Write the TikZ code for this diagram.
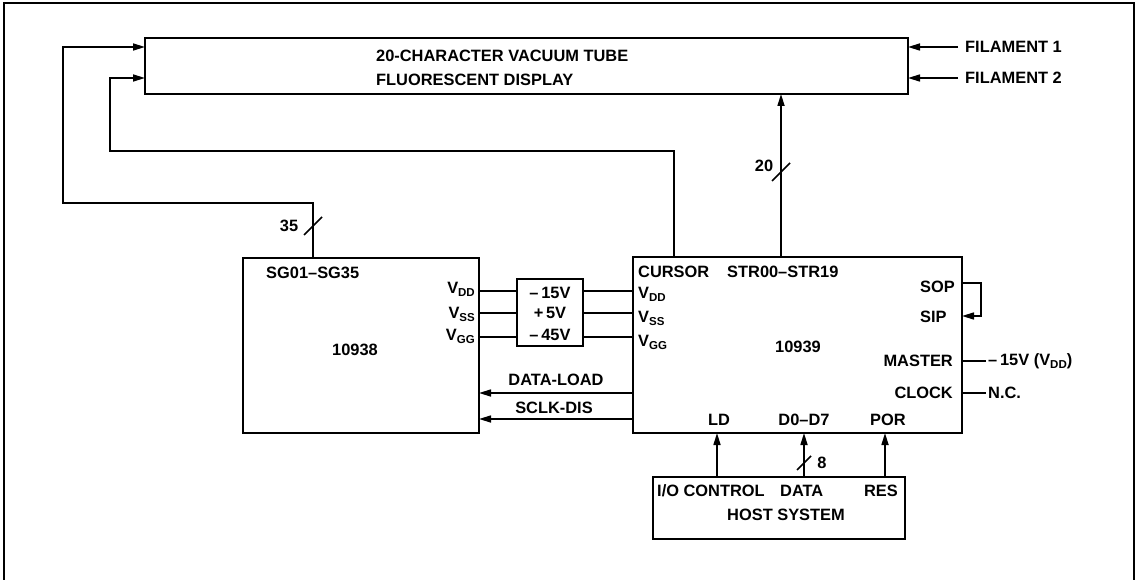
\documentclass[tikz,border=0pt]{standalone}
\usepackage{fontspec}
\setmainfont{Liberation Sans}
\usetikzlibrary{arrows.meta,calc}
\newcommand{\vsub}[1]{\raisebox{-0.35ex}{\fontsize{11.5}{12}\selectfont #1}}
\begin{document}
\begin{tikzpicture}[x=1pt,y=-1pt,
  box/.style={draw,line width=1.7pt,inner sep=0pt,outer sep=0pt,rectangle},
  wire/.style={line width=1.6pt},
  arr/.style={wire,-{Triangle[length=12pt,width=7pt]}},
  slash/.style={line width=1.5pt},
  lbl/.style={font=\bfseries\fontsize{16.4}{18}\selectfont,inner sep=0pt}]
\useasboundingbox (0,0) rectangle (1140,580);
% frame
\draw[line width=1.4pt] (4,580) -- (4,3) -- (1134,3) -- (1134,580);
% blocks
\node[box,minimum width=763pt,minimum height=56pt] (disp) at (526.5,66) {};
\node[box,minimum width=236pt,minimum height=175pt] (sg) at (361,345.5) {};
\node[box,minimum width=66pt,minimum height=67pt] (ps) at (550,312.5) {};
\node[box,minimum width=329pt,minimum height=176pt] (ic) at (797.5,345) {};
\node[box,minimum width=252pt,minimum height=62pt] (host) at (779,508) {};
% level coordinates
\coordinate (yDD) at (0,291);
\coordinate (ySS) at (0,313);
\coordinate (yGG) at (0,337);
\coordinate (yDL) at (0,393);
\coordinate (ySC) at (0,419);
\coordinate (ySOP) at (0,283);
\coordinate (ySIP) at (0,316);
\coordinate (yMAS) at (0,361);
\coordinate (yCLK) at (0,393);
\coordinate (x35) at (313,0);
\coordinate (xcur) at (674,0);
\coordinate (xstr) at (781,0);
\coordinate (xld) at (717,0);
\coordinate (xd) at (804,0);
\coordinate (xpor) at (885,0);
\coordinate (f1) at (958,47);
\coordinate (f2) at (958,78);
\coordinate (mas) at (986,361);
\coordinate (clk) at (986,393);
\coordinate (loopx) at (981,0);
% power wires
\foreach \y in {yDD,ySS,yGG}{
  \draw[wire] (sg.east |- \y) -- (ps.west |- \y);
  \draw[wire] (ps.east |- \y) -- (ic.west |- \y);
}
\draw[arr] (ic.west |- yDL) -- (sg.east |- yDL);
\draw[arr] (ic.west |- ySC) -- (sg.east |- ySC);
% segments to display
\draw[arr] (sg.north -| x35) |- (63,203) |- ([yshift=-9pt]disp.north west);
\draw[arr] (ic.north -| xcur) |- (110,151) |- ([yshift=-40pt]disp.north west);
\draw[arr] (ic.north -| xstr) -- (disp.south -| xstr);
% filaments
\draw[arr] (f1) -- (disp.east |- f1);
\draw[arr] (f2) -- (disp.east |- f2);
% SOP/SIP loop
\draw[arr] (ic.east |- ySOP) -- (loopx |- ySOP) -- (loopx |- ySIP) -- (ic.east |- ySIP);
\draw[wire] (ic.east |- yMAS) -- (mas);
\draw[wire] (ic.east |- yCLK) -- (clk);
% host
\draw[arr] (host.north -| xld) -- (ic.south -| xld);
\draw[arr] (host.north -| xd) -- (ic.south -| xd);
\draw[arr] (host.north -| xpor) -- (ic.south -| xpor);
% bus slashes
\coordinate (s20) at (781,172);
\coordinate (s35) at (313,226);
\coordinate (s8) at (804,463);
\draw[slash] (s20) +(-9,9) -- +(9,-9);
\draw[slash] (s35) +(-9,9) -- +(9,-9);
\draw[slash] (s8) +(-7,7) -- +(7,-7);
\node[lbl] (n20) at (764,166) {20};
\node[lbl] (n35) at (289,226) {35};
\node[lbl] (n8) at (822,463) {8};
% texts
\node[lbl,anchor=west] (t1) at (376,56) {20-CHARACTER VACUUM TUBE};
\node[lbl,anchor=west] (t2) at (376,80) {FLUORESCENT DISPLAY};
\node[lbl,anchor=west] (tf1) at (965,47) {FILAMENT 1};
\node[lbl,anchor=west] (tf2) at (965,78) {FILAMENT 2};
\node[lbl,anchor=west] (tsg) at (266,273) {SG01–SG35};
\node[lbl] (t938) at (355,350) {10938};
\node[lbl,anchor=base east] (sdd) at (475,293) {V\vsub{DD}};
\node[lbl,anchor=base east] (sss) at (475,318) {V\vsub{SS}};
\node[lbl,anchor=base east] (sgg) at (475,340) {V\vsub{GG}};
\node[lbl] (p1) at (550,293) {–\,15V};
\node[lbl] (p2) at (550,313) {+\,5V};
\node[lbl] (p3) at (550,335) {–\,45V};
\node[lbl] (tdl) at (556,380) {DATA-LOAD};
\node[lbl] (tsc) at (554,408) {SCLK-DIS};
\node[lbl,anchor=west] (tcur) at (638,272) {CURSOR};
\node[lbl,anchor=west] (tstr) at (727,272) {STR00–STR19};
\node[lbl,anchor=base west] (idd) at (638,298) {V\vsub{DD}};
\node[lbl,anchor=base west] (iss) at (638,322) {V\vsub{SS}};
\node[lbl,anchor=base west] (igg) at (638,346) {V\vsub{GG}};
\node[lbl] (t939) at (798,347) {10939};
\node[lbl,anchor=west] (tsop) at (920,287) {SOP};
\node[lbl,anchor=west] (tsip) at (920,317) {SIP};
\node[lbl,anchor=east] (tmas) at (953,361) {MASTER};
\node[lbl,anchor=east] (tclk) at (953,393) {CLOCK};
\node[lbl,anchor=west] (tm15) at (988,361) {–\,15V (V\vsub{DD})};
\node[lbl,anchor=west] (tnc) at (988,393) {N.C.};
\node[lbl] (tld) at (719,420) {LD};
\node[lbl] (td07) at (804,420) {D0–D7};
\node[lbl] (tpor) at (888,420) {POR};
\node[lbl,anchor=west] (tio) at (657,491) {I/O CONTROL};
\node[lbl,anchor=west] (tdata) at (780,491) {DATA};
\node[lbl,anchor=east] (tres) at (898,491) {RES};
\node[lbl] (thost) at (786,515) {HOST SYSTEM};
\end{tikzpicture}
\end{document}
